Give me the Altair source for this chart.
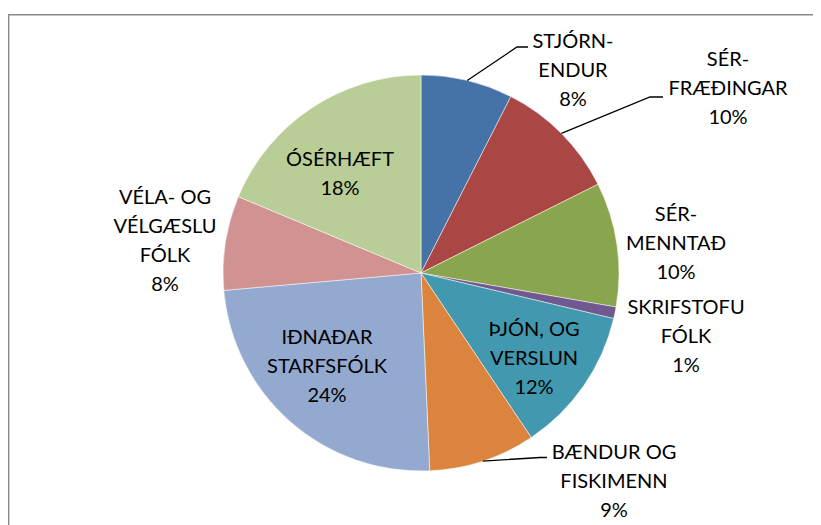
import math
import altair as alt
import pandas as pd

# ---- data ----
categories = ["STJÓRN-\nENDUR", "SÉR-\nFRÆÐINGAR", "SÉR-\nMENNTAÐ", "SKRIFSTOFU\nFÓLK",
              "ÞJÓN, OG\nVERSLUN", "BÆNDUR OG\nFISKIMENN", "IÐNAÐAR\nSTARFSFÓLK",
              "VÉLA- OG\nVÉLGÆSLU\nFÓLK", "ÓSÉRHÆFT"]
shares = [7.5, 10.1, 10.15, 0.95, 11.9, 8.7, 24.3, 7.7, 18.7]
pct_labels = ["8%", "10%", "10%", "1%", "12%", "9%", "24%", "8%", "18%"]
colors = ["#4572A7", "#AA4643", "#89A54E", "#71588F", "#4198AF",
          "#DB843D", "#93A9CF", "#D19392", "#B9CD96"]

# ---- layout (chart pixel coordinates; page = chart + 8) ----
CX, CY, R = 413, 265, 198
W, H = 805, 517
# position of the first text line of each label
label_pos = [(565, 34), (720, 52), (668, 207), (678, 300), (526, 322),
             (606, 445), (319, 330), (157, 190), (332, 152)]
# leader lines: slice index -> (elbow, end)
leaders = {0: ((509, 39), (520, 39)), 1: ((642, 89), (655, 89)), 5: ((532, 449.5), (539, 449.5))}

total = sum(shares)
cum = 0.0
mids = []
for v in shares:
    mids.append((cum + v / 2) / total * 2 * math.pi)
    cum += v

pie_df = pd.DataFrame({"name": categories, "value": shares, "idx": list(range(len(shares)))})

lab_df = pd.DataFrame({
    "label": [c + "\n" + p for c, p in zip(categories, pct_labels)],
    "lx": [p[0] for p in label_pos],
    "ly": [p[1] for p in label_pos],
})

rows = []
for i, (elbow, end) in leaders.items():
    a = mids[i]
    sx, sy = CX + R * math.sin(a), CY - R * math.cos(a)
    for k, (px, py) in enumerate([(sx, sy), elbow, end]):
        rows.append({"leader": i, "k": k, "px": px, "py": py})
lead_df = pd.DataFrame(rows)

frame = alt.Chart(pd.DataFrame({"d": [0]})).mark_rule(color="#898989", strokeWidth=1.4)
frame_left = frame.encode(x=alt.value(0.7), y=alt.value(6), y2=alt.value(H + 10))
frame_top = frame.encode(x=alt.value(0), x2=alt.value(W + 10), y=alt.value(6.7))

pie = alt.Chart(pie_df).mark_arc(outerRadius=R, stroke="white", strokeWidth=0.5).encode(
    theta=alt.Theta("value:Q", stack=True),
    color=alt.Color("name:N", scale=alt.Scale(domain=categories, range=colors), legend=None),
    order=alt.Order("idx:Q"),
    x=alt.value(CX),
    y=alt.value(CY),
)

lines = alt.Chart(lead_df).mark_line(color="black", strokeWidth=1.3).encode(
    x=alt.X("px:Q", scale=None, axis=None),
    y=alt.Y("py:Q", scale=None, axis=None),
    detail="leader:N",
    order="k:Q",
)

labels = alt.Chart(lab_df).mark_text(
    font="Lato", fontSize=20, lineBreak="\n", lineHeight=29,
    align="center", baseline="middle", color="black"
).encode(
    x=alt.X("lx:Q", scale=None, axis=None),
    y=alt.Y("ly:Q", scale=None, axis=None),
    text="label:N",
)

chart = alt.layer(frame_left, frame_top, pie, lines, labels).properties(
    width=W, height=H, autosize=alt.AutoSizeParams(type="none"), padding=0
).configure_view(stroke=None)

chart.save("out.html", embed_options={"renderer": "svg", "actions": False})
